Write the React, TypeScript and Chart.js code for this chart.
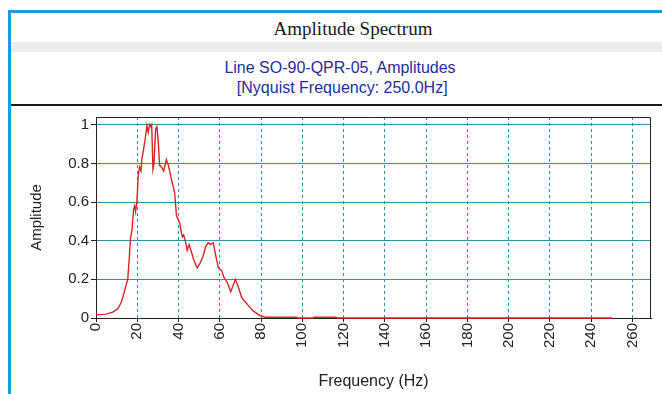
import React, { useEffect, useRef } from "react";
import { Chart, registerables } from "chart.js";

Chart.register(...registerables);

// ---- data ----
const frequencies = [
  0, 4.9, 8.1, 10.5, 12.2, 13, 14.6, 15.4, 16.2, 16.7, 17.5, 18.2, 18.7, 19.2, 19.8,
  20.5, 21.1, 21.8, 22.2, 23, 23.9, 24.7, 25.3, 26, 26.6, 27, 27.6, 28.1, 28.9, 29.5,
  30.2, 30.8, 31.8, 32.8, 34.1, 35.1, 36.5, 38.1, 39, 39.8, 40.6, 41.4, 41.9, 42.5,
  43.5, 44.2, 45.1, 46.3, 47.4, 49, 50.3, 51.9, 53.2, 54.4, 55.5, 56.8, 58.1, 59.3,
  60.9, 62, 63.6, 65.3, 66.2, 67.5, 69, 70.6, 72.2, 73.9, 76, 77.9, 79.5, 82, 84,
  97, 98, 105, 106, 116, 117, 250,
];
const amplitudes = [
  0.016, 0.02, 0.03, 0.047, 0.08, 0.107, 0.17, 0.2, 0.32, 0.41, 0.46, 0.56, 0.58, 0.55, 0.6,
  0.74, 0.78, 0.76, 0.82, 0.87, 0.93, 0.995, 0.96, 1.0, 0.99, 1.0, 0.77, 0.8, 0.98, 0.99,
  0.91, 0.79, 0.78, 0.76, 0.82, 0.79, 0.72, 0.65, 0.53, 0.51, 0.49, 0.44, 0.42, 0.43,
  0.39, 0.35, 0.38, 0.34, 0.3, 0.26, 0.28, 0.32, 0.37, 0.39, 0.38, 0.39, 0.32, 0.26,
  0.245, 0.21, 0.185, 0.136, 0.16, 0.2, 0.16, 0.107, 0.085, 0.064, 0.038, 0.024, 0.012, 0.004, 0.004,
  0.004, 0, 0, 0.004, 0.004, 0, 0,
];
const xTickValues = [0, 20, 40, 60, 80, 100, 120, 140, 160, 180, 200, 220, 240, 260];
const yTickValues = [0, 0.2, 0.4, 0.6, 0.8, 1];
const xRange = [0, 269];
const yRange = [0, 1.04];

const TITLE = "Amplitude Spectrum";
const SUBTITLE_LINES = ["Line SO-90-QPR-05, Amplitudes", "\u00a0[Nyquist Frequency: 250.0Hz]"];
const X_TITLE = "Frequency (Hz)";
const Y_TITLE = "Amplitude";

const FRAME = "#1e9fd0";
const GRID = "#2a93a8";
const AXIS = "#222222";
const LINE = "#dc2222";
const SANS = "'Liberation Sans', Arial, sans-serif";

const boxPlugin = {
  id: "plotBox",
  beforeDatasetsDraw(chart: any) {
    const { ctx, chartArea } = chart;
    const l = Math.round(chartArea.left);
    const t = Math.round(chartArea.top);
    const r = Math.round(chartArea.right);
    const b = Math.round(chartArea.bottom);
    ctx.save();
    ctx.strokeStyle = AXIS;
    ctx.lineWidth = 1;
    ctx.beginPath();
    ctx.moveTo(l, t + 0.5);
    ctx.lineTo(r - 0.5, t + 0.5);
    ctx.lineTo(r - 0.5, b);
    ctx.stroke();
    ctx.restore();
  },
};

export default function App() {
  const ref = useRef<HTMLCanvasElement | null>(null);

  useEffect(() => {
    if (!ref.current) return;
    const chart = new Chart(ref.current, {
      type: "line",
      data: {
        datasets: [
          {
            data: frequencies.map((f, i) => ({ x: f, y: amplitudes[i] })),
            borderColor: LINE,
            borderWidth: 1.4,
            pointRadius: 0,
            tension: 0,
            fill: false,
            clip: 4,
          } as any,
        ],
      },
      options: {
        animation: false,
        responsive: false,
        devicePixelRatio: 1,
        layout: { padding: { top: 117, right: 11, left: 0, bottom: 0 } },
        plugins: { legend: { display: false }, tooltip: { enabled: false } },
        scales: {
          x: {
            type: "linear",
            min: xRange[0],
            max: xRange[1],
            afterBuildTicks: (s: any) => {
              s.ticks = xTickValues.map((v) => ({ value: v }));
            },
            afterFit: (s: any) => {
              s.height = 76;
            },
            ticks: {
              minRotation: 90,
              maxRotation: 90,
              padding: 1,
              color: AXIS,
              font: { family: SANS, size: 15 },
              callback: (v: any) => String(v),
            },
            grid: {
              color: GRID,
              lineWidth: 1,
              tickColor: AXIS,
              tickLength: 4,
            },
            border: { color: AXIS, width: 1, dash: [3, 3] },
            title: {
              display: true,
              text: X_TITLE,
              color: AXIS,
              font: { family: SANS, size: 16 },
              padding: { top: 0, bottom: 3 },
            },
          },
          y: {
            type: "linear",
            min: yRange[0],
            max: yRange[1],
            afterBuildTicks: (s: any) => {
              s.ticks = yTickValues.map((v) => ({ value: v }));
            },
            afterFit: (s: any) => {
              s.width = 96;
            },
            ticks: {
              padding: 2,
              color: AXIS,
              font: { family: SANS, size: 15 },
              callback: (v: any) => String(Math.round(Number(v) * 10) / 10),
            },
            grid: {
              color: GRID,
              lineWidth: 1,
              tickColor: AXIS,
              tickLength: 5,
            },
            border: { color: AXIS, width: 1 },
            title: {
              display: true,
              text: Y_TITLE,
              color: AXIS,
              font: { family: SANS, size: 15 },
              padding: { top: 28, bottom: 0 },
            },
          },
        },
      },
      plugins: [boxPlugin],
    });
    return () => chart.destroy();
  }, []);

  return (
    <div
      style={{
        position: "absolute",
        left: 0,
        top: 0,
        width: 662,
        height: 394,
        overflow: "hidden",
        background: "#ffffff",
      }}
    >
      <div
        style={{
          position: "absolute",
          left: 8,
          top: 10,
          width: 720,
          height: 420,
          borderLeft: `3px solid ${FRAME}`,
          borderTop: `3px solid ${FRAME}`,
          boxSizing: "border-box",
        }}
      />
      <div
        style={{
          position: "absolute",
          left: 11,
          top: 42,
          width: 700,
          height: 10,
          background: "#ececec",
        }}
      />
      <div
        style={{
          position: "absolute",
          left: 0,
          top: 19,
          width: 706,
          textAlign: "center",
          fontFamily: "'Liberation Serif', 'Times New Roman', serif",
          fontSize: 19,
          lineHeight: "20px",
          color: "#1a1a1a",
          whiteSpace: "pre",
        }}
      >
        {TITLE}
      </div>
      <div
        style={{
          position: "absolute",
          left: 0,
          top: 58,
          width: 680,
          textAlign: "center",
          fontFamily: SANS,
          fontSize: 16,
          lineHeight: "20px",
          color: "#1f2d9e",
          whiteSpace: "pre",
        }}
      >
        {SUBTITLE_LINES.map((l, i) => (
          <div key={i}>{l}</div>
        ))}
      </div>
      <div
        style={{
          position: "absolute",
          left: 11,
          top: 104,
          width: 700,
          height: 2,
          background: "#1a1a1a",
        }}
      />
      <canvas
        ref={ref}
        width={662}
        height={394}
        style={{ position: "absolute", left: 0, top: 0, width: 662, height: 394, display: "block" }}
      />
    </div>
  );
}
